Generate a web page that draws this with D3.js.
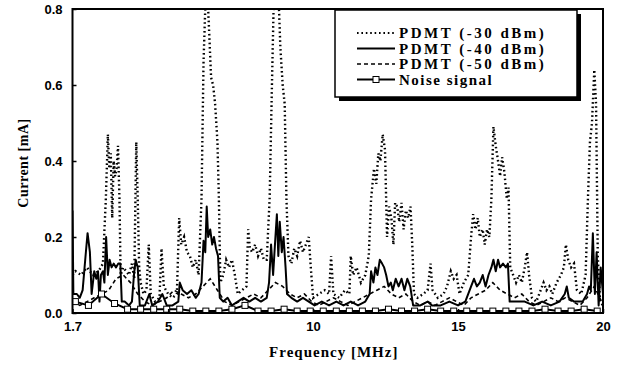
<!DOCTYPE html>
<html>
<head>
<meta charset="utf-8">
<script src="https://cdn.jsdelivr.net/npm/d3@7"></script>
<style>
  body { margin: 0; background: #fff; }
  svg { display: block; }
</style>
</head>
<body>
<div id="chart"></div>
<script>
// data: [frequency MHz, current mA]
const pdmt30 = [
  [1.70, 0.10], [1.80, 0.11], [2.00, 0.10], [2.20, 0.12], [2.40, 0.10], [2.60, 0.11], [2.75, 0.13],
  [2.85, 0.30], [2.92, 0.47], [2.97, 0.38], [3.02, 0.42], [3.07, 0.25], [3.12, 0.40], [3.17, 0.36],
  [3.22, 0.38], [3.27, 0.44], [3.32, 0.30], [3.36, 0.10], [3.45, 0.12], [3.55, 0.11], [3.65, 0.10],
  [3.75, 0.13], [3.83, 0.09], [3.90, 0.45], [3.95, 0.30], [4.00, 0.12], [4.05, 0.08], [4.15, 0.05],
  [4.25, 0.06], [4.33, 0.18], [4.40, 0.05], [4.55, 0.03], [4.70, 0.04], [4.77, 0.17], [4.85, 0.07],
  [5.00, 0.05], [5.15, 0.04], [5.30, 0.05], [5.38, 0.25], [5.45, 0.18], [5.55, 0.20], [5.65, 0.16],
  [5.75, 0.15], [5.85, 0.12], [5.95, 0.14], [6.05, 0.10], [6.15, 0.30], [6.22, 0.66], [6.30, 0.85],
  [6.35, 0.85], [6.42, 0.73], [6.48, 0.62], [6.55, 0.60], [6.62, 0.55], [6.70, 0.45], [6.75, 0.30],
  [6.80, 0.08], [6.90, 0.10], [7.00, 0.14], [7.10, 0.12], [7.20, 0.14], [7.30, 0.10], [7.40, 0.05],
  [7.55, 0.06], [7.70, 0.07], [7.76, 0.22], [7.82, 0.17], [7.90, 0.16], [8.00, 0.18], [8.10, 0.15],
  [8.20, 0.17], [8.30, 0.14], [8.40, 0.14], [8.50, 0.30], [8.58, 0.60], [8.65, 0.85], [8.72, 0.85],
  [8.80, 0.85], [8.87, 0.70], [8.95, 0.60], [9.02, 0.55], [9.08, 0.30], [9.15, 0.15], [9.25, 0.13],
  [9.35, 0.17], [9.45, 0.15], [9.55, 0.19], [9.65, 0.16], [9.75, 0.18], [9.85, 0.20], [9.92, 0.12],
  [10.00, 0.04], [10.20, 0.05], [10.40, 0.06], [10.55, 0.05], [10.62, 0.15], [10.70, 0.05],
  [10.90, 0.04], [11.10, 0.06], [11.25, 0.05], [11.30, 0.15], [11.38, 0.10], [11.50, 0.12],
  [11.65, 0.08], [11.80, 0.10], [11.92, 0.15], [12.00, 0.30], [12.10, 0.38], [12.18, 0.34],
  [12.25, 0.42], [12.32, 0.40], [12.40, 0.47], [12.48, 0.43], [12.55, 0.20], [12.62, 0.28],
  [12.70, 0.25], [12.77, 0.18], [12.83, 0.29], [12.90, 0.28], [12.97, 0.24], [13.05, 0.29],
  [13.12, 0.22], [13.20, 0.27], [13.28, 0.25], [13.36, 0.28], [13.42, 0.18], [13.48, 0.05],
  [13.60, 0.04], [13.80, 0.05], [13.95, 0.06], [14.05, 0.13], [14.12, 0.06], [14.30, 0.04],
  [14.50, 0.05], [14.62, 0.07], [14.75, 0.11], [14.85, 0.09], [14.95, 0.10], [15.05, 0.05],
  [15.20, 0.08], [15.35, 0.10], [15.45, 0.20], [15.52, 0.26], [15.60, 0.22], [15.68, 0.25],
  [15.75, 0.20], [15.85, 0.22], [15.92, 0.18], [16.00, 0.22], [16.08, 0.20], [16.15, 0.30],
  [16.22, 0.49], [16.30, 0.44], [16.38, 0.40], [16.45, 0.36], [16.52, 0.41], [16.60, 0.37],
  [16.68, 0.30], [16.74, 0.33], [16.80, 0.12], [16.90, 0.10], [17.00, 0.08], [17.10, 0.10],
  [17.20, 0.08], [17.30, 0.12], [17.38, 0.16], [17.45, 0.10], [17.55, 0.04], [17.70, 0.03],
  [17.85, 0.06], [17.95, 0.08], [18.05, 0.06], [18.15, 0.07], [18.25, 0.05], [18.40, 0.08],
  [18.55, 0.10], [18.65, 0.12], [18.72, 0.18], [18.80, 0.14], [18.90, 0.12], [19.00, 0.13],
  [19.10, 0.06], [19.25, 0.05], [19.40, 0.10], [19.48, 0.30], [19.55, 0.45], [19.62, 0.50],
  [19.70, 0.64], [19.76, 0.55], [19.82, 0.15], [19.90, 0.03], [20.00, 0.02]
];

const pdmt40 = [
  [1.70, 0.27], [1.73, 0.05], [1.85, 0.05], [1.95, 0.04], [2.05, 0.06], [2.15, 0.15], [2.22, 0.21],
  [2.30, 0.16], [2.36, 0.05], [2.45, 0.11], [2.52, 0.09], [2.58, 0.11], [2.63, 0.03], [2.68, 0.10],
  [2.75, 0.11], [2.80, 0.08], [2.86, 0.20], [2.92, 0.10], [2.98, 0.14], [3.05, 0.12], [3.12, 0.13],
  [3.20, 0.12], [3.28, 0.13], [3.35, 0.13], [3.40, 0.03], [3.50, 0.03], [3.65, 0.02], [3.75, 0.03],
  [3.82, 0.10], [3.88, 0.14], [3.95, 0.12], [4.02, 0.02], [4.20, 0.02], [4.35, 0.05], [4.45, 0.02],
  [4.65, 0.03], [4.80, 0.05], [4.95, 0.02], [5.15, 0.02], [5.35, 0.03], [5.40, 0.08], [5.50, 0.06],
  [5.65, 0.05], [5.80, 0.06], [5.95, 0.04], [6.05, 0.05], [6.15, 0.08], [6.22, 0.19], [6.28, 0.16],
  [6.33, 0.28], [6.38, 0.20], [6.45, 0.22], [6.52, 0.18], [6.58, 0.20], [6.65, 0.17], [6.72, 0.15],
  [6.78, 0.04], [6.90, 0.03], [7.05, 0.04], [7.20, 0.02], [7.40, 0.03], [7.60, 0.04], [7.80, 0.03],
  [8.00, 0.04], [8.20, 0.03], [8.40, 0.04], [8.48, 0.08], [8.55, 0.18], [8.62, 0.10], [8.70, 0.20],
  [8.75, 0.26], [8.80, 0.15], [8.85, 0.24], [8.92, 0.16], [8.98, 0.20], [9.05, 0.12], [9.10, 0.05],
  [9.25, 0.04], [9.45, 0.03], [9.65, 0.04], [9.85, 0.03], [10.05, 0.02], [10.30, 0.03], [10.55, 0.02],
  [10.80, 0.03], [11.05, 0.02], [11.30, 0.03], [11.55, 0.02], [11.80, 0.03], [11.95, 0.05],
  [12.00, 0.11], [12.08, 0.08], [12.15, 0.12], [12.22, 0.10], [12.30, 0.14], [12.38, 0.13],
  [12.45, 0.12], [12.52, 0.10], [12.60, 0.07], [12.68, 0.08], [12.75, 0.06], [12.85, 0.09],
  [12.95, 0.07], [13.05, 0.09], [13.15, 0.06], [13.25, 0.09], [13.35, 0.07], [13.45, 0.02],
  [13.70, 0.02], [13.95, 0.03], [14.10, 0.02], [14.40, 0.02], [14.70, 0.03], [15.00, 0.02],
  [15.25, 0.03], [15.45, 0.07], [15.55, 0.09], [15.65, 0.07], [15.75, 0.08], [15.85, 0.10],
  [15.95, 0.07], [16.05, 0.10], [16.15, 0.12], [16.22, 0.14], [16.30, 0.11], [16.38, 0.14],
  [16.45, 0.12], [16.55, 0.13], [16.65, 0.12], [16.72, 0.13], [16.78, 0.03], [17.00, 0.03],
  [17.30, 0.03], [17.60, 0.02], [17.90, 0.03], [18.20, 0.02], [18.50, 0.03], [18.68, 0.05],
  [18.75, 0.07], [18.82, 0.04], [19.00, 0.03], [19.30, 0.03], [19.45, 0.05], [19.52, 0.07],
  [19.58, 0.06], [19.65, 0.21], [19.72, 0.05], [19.78, 0.16], [19.85, 0.02], [19.92, 0.12],
  [20.00, 0.05]
];

const pdmt50 = [
  [1.70, 0.03], [1.95, 0.02], [2.20, 0.03], [2.45, 0.04], [2.70, 0.05], [2.95, 0.06], [3.20, 0.09],
  [3.45, 0.10], [3.70, 0.08], [3.95, 0.05], [4.20, 0.03], [4.45, 0.02], [4.70, 0.03], [4.95, 0.04],
  [5.20, 0.06], [5.45, 0.05], [5.70, 0.04], [5.95, 0.05], [6.20, 0.07], [6.45, 0.09], [6.70, 0.06],
  [6.95, 0.03], [7.20, 0.02], [7.45, 0.03], [7.70, 0.04], [7.95, 0.05], [8.20, 0.04], [8.45, 0.06],
  [8.70, 0.08], [8.95, 0.07], [9.20, 0.05], [9.45, 0.04], [9.70, 0.05], [9.95, 0.03], [10.20, 0.02],
  [10.45, 0.03], [10.70, 0.04], [10.95, 0.03], [11.20, 0.02], [11.45, 0.03], [11.70, 0.04],
  [11.95, 0.05], [12.20, 0.06], [12.45, 0.07], [12.70, 0.05], [12.95, 0.04], [13.20, 0.05],
  [13.45, 0.03], [13.70, 0.02], [13.95, 0.03], [14.20, 0.02], [14.45, 0.03], [14.70, 0.04],
  [14.95, 0.03], [15.20, 0.02], [15.45, 0.04], [15.70, 0.05], [15.95, 0.06], [16.20, 0.08],
  [16.45, 0.06], [16.70, 0.05], [16.95, 0.04], [17.20, 0.05], [17.45, 0.03], [17.70, 0.02],
  [17.95, 0.03], [18.20, 0.04], [18.45, 0.03], [18.70, 0.04], [18.95, 0.03], [19.20, 0.02],
  [19.45, 0.04], [19.70, 0.07], [19.95, 0.03]
];

const noiseFreq = [1.8, 2.25, 2.7, 3.15, 3.6, 4.05, 4.5, 4.95, 5.4, 5.85, 6.3, 6.75, 7.2, 7.65, 8.1,
  8.55, 9.0, 9.45, 9.9, 10.35, 10.8, 11.25, 11.7, 12.15, 12.6, 13.05, 13.5, 13.95, 14.4, 14.85, 15.3,
  15.75, 16.2, 16.65, 17.1, 17.55, 18.0, 18.45, 18.9, 19.35, 19.8];
const noiseVal = [0.03, 0.02, 0.05, 0.025, 0.01, 0.01, 0.01, 0.01, 0.01, 0.005, 0.005, 0.005, 0.01,
  0.02, 0.005, 0.005, 0.01, 0.005, 0.005, 0.005, 0.005, 0.005, 0.005, 0.005, 0.01, 0.005, 0.005,
  0.01, 0.005, 0.005, 0.005, 0.005, 0.005, 0.005, 0.005, 0.005, 0.01, 0.005, 0.005, 0.01, 0.005];

const xTicks = [1.7, 5, 10, 15, 20];
const yTicks = [0.0, 0.2, 0.4, 0.6, 0.8];
const legendLabels = ["PDMT (-30 dBm)", "PDMT (-40 dBm)", "PDMT (-50 dBm)", "Noise signal"];

// layout
const width = 624, height = 367;
const plot = {left: 72.5, right: 603, top: 9, bottom: 313};

const svg = d3.select("#chart").append("svg")
  .attr("width", width)
  .attr("height", height);

const x = d3.scaleLinear().domain([1.7, 20]).range([plot.left, plot.right]);
const y = d3.scaleLinear().domain([0, 0.8]).range([plot.bottom, plot.top]);

svg.append("clipPath").attr("id", "clip")
  .append("rect")
  .attr("x", plot.left).attr("y", plot.top)
  .attr("width", plot.right - plot.left).attr("height", plot.bottom - plot.top);

const line = d3.line().x(d => x(d[0])).y(d => y(d[1]));
const lines = svg.append("g").attr("clip-path", "url(#clip)");

// -50 dBm dashed
lines.append("path").datum(pdmt50)
  .attr("d", line).attr("fill", "none").attr("stroke", "#000")
  .attr("stroke-width", 1.6).attr("stroke-dasharray", "4,3");

// -30 dBm dotted
lines.append("path").datum(pdmt30)
  .attr("d", line).attr("fill", "none").attr("stroke", "#000")
  .attr("stroke-width", 2.4).attr("stroke-dasharray", "1.6,2.8");

// -40 dBm solid
lines.append("path").datum(pdmt40)
  .attr("d", line).attr("fill", "none").attr("stroke", "#000")
  .attr("stroke-width", 2).attr("stroke-linejoin", "round");

// noise line with open squares
const noise = noiseFreq.map((f, i) => [f, noiseVal[i]]);
lines.append("path").datum(noise)
  .attr("d", line).attr("fill", "none").attr("stroke", "#000").attr("stroke-width", 2);
lines.selectAll("rect.marker")
  .data(noise)
  .join("rect")
  .attr("class", "marker")
  .attr("x", d => x(d[0]) - 3).attr("y", d => y(d[1]) - 3)
  .attr("width", 6).attr("height", 6)
  .attr("fill", "#fff").attr("stroke", "#000").attr("stroke-width", 1);

// frame
svg.append("rect")
  .attr("x", plot.left).attr("y", plot.top)
  .attr("width", plot.right - plot.left).attr("height", plot.bottom - plot.top)
  .attr("fill", "none").attr("stroke", "#000").attr("stroke-width", 2);

// axes
const xAxis = svg.append("g")
  .attr("transform", `translate(0,${plot.bottom})`)
  .call(d3.axisBottom(x).tickValues(xTicks).tickSize(-4).tickPadding(9)
    .tickFormat(d => d === 1.7 ? "1.7" : d3.format("d")(d)));
const yAxis = svg.append("g")
  .attr("transform", `translate(${plot.left},0)`)
  .call(d3.axisLeft(y).tickValues(yTicks).tickSize(-4).tickPadding(10).tickFormat(d3.format(".1f")));

[xAxis, yAxis].forEach(g => {
  g.select(".domain").remove();
  g.selectAll("line").attr("stroke", "#000").attr("stroke-width", 1.5);
  g.selectAll("text")
    .attr("font-family", "Liberation Sans, Arial, sans-serif")
    .attr("font-weight", "bold")
    .attr("font-size", "13px")
    .attr("fill", "#000");
});

// axis titles
svg.append("text")
  .attr("x", (plot.left + plot.right) / 2 - 4)
  .attr("y", 357)
  .attr("text-anchor", "middle")
  .attr("font-family", "Liberation Serif, Times New Roman, serif")
  .attr("font-weight", "bold")
  .attr("font-size", "15px")
  .attr("letter-spacing", "1px")
  .text("Frequency [MHz]");

svg.append("text")
  .attr("transform", "translate(28,163) rotate(-90)")
  .attr("text-anchor", "middle")
  .attr("font-family", "Liberation Serif, Times New Roman, serif")
  .attr("font-weight", "bold")
  .attr("font-size", "14px")
  .attr("letter-spacing", "0.5px")
  .text("Current [mA]");

// legend
const lg = {x: 335, y: 10, w: 242, h: 87};
const legend = svg.append("g");
legend.append("rect")
  .attr("x", lg.x + 4).attr("y", lg.y + 4)
  .attr("width", lg.w).attr("height", lg.h)
  .attr("fill", "#000");
legend.append("rect")
  .attr("x", lg.x).attr("y", lg.y)
  .attr("width", lg.w).attr("height", lg.h)
  .attr("fill", "#fff").attr("stroke", "#000").attr("stroke-width", 1.5);

const styles = [
  {dash: "1.6,2.8", sw: 2.2},
  {dash: null, sw: 2},
  {dash: "4,3", sw: 1.6},
  {dash: null, sw: 2, marker: true}
];

legendLabels.forEach((label, i) => {
  const ly = lg.y + 23 + i * 15.5;
  legend.append("line")
    .attr("x1", 357).attr("x2", 395).attr("y1", ly).attr("y2", ly)
    .attr("stroke", "#000").attr("stroke-width", styles[i].sw)
    .attr("stroke-dasharray", styles[i].dash);
  if (styles[i].marker) {
    legend.append("rect")
      .attr("x", 373).attr("y", ly - 3).attr("width", 6).attr("height", 6)
      .attr("fill", "#fff").attr("stroke", "#000");
  }
  legend.append("text")
    .attr("x", 399).attr("y", ly + 5)
    .attr("font-family", "Liberation Serif, Times New Roman, serif")
    .attr("font-weight", "bold")
    .attr("font-size", "15px")
    .attr("letter-spacing", i === 3 ? "1.5px" : "2.5px")
    .text(label);
});
</script>
</body>
</html>
